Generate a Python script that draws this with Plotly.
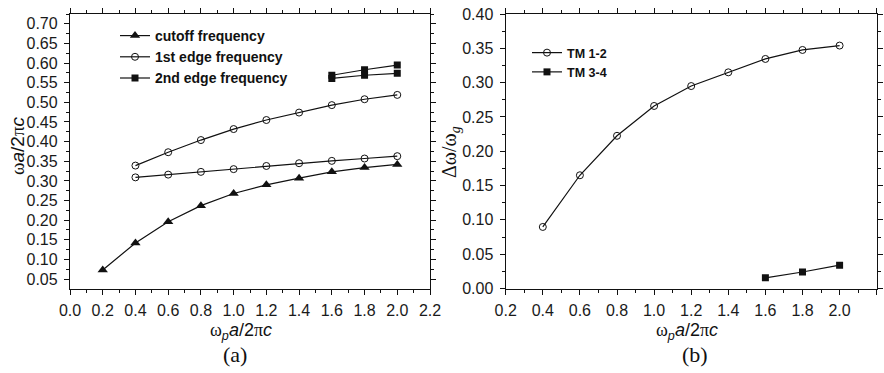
import plotly.graph_objects as go

# ---- panel (a): band-edge frequencies vs plasma frequency ----
wp_a = [0.2, 0.4, 0.6, 0.8, 1.0, 1.2, 1.4, 1.6, 1.8, 2.0]
cutoff = [0.073, 0.142, 0.196, 0.237, 0.268, 0.290, 0.307, 0.323, 0.334, 0.342]

wp_edge1 = [0.4, 0.6, 0.8, 1.0, 1.2, 1.4, 1.6, 1.8, 2.0]
edge1_upper = [0.339, 0.373, 0.404, 0.432, 0.455, 0.474, 0.493, 0.508, 0.519]
edge1_lower = [0.309, 0.316, 0.323, 0.330, 0.338, 0.345, 0.351, 0.357, 0.363]

wp_edge2 = [1.6, 1.8, 2.0]
edge2_upper = [0.569, 0.583, 0.595]
edge2_lower = [0.561, 0.569, 0.574]

# ---- panel (b): relative gap width ----
wp_tm12 = [0.4, 0.6, 0.8, 1.0, 1.2, 1.4, 1.6, 1.8, 2.0]
gap_tm12 = [0.0897, 0.165, 0.2225, 0.266, 0.295, 0.315, 0.3345, 0.3476, 0.354]
wp_tm34 = [1.6, 1.8, 2.0]
gap_tm34 = [0.0155, 0.024, 0.034]

BLACK = "#111111"
LINE = dict(color=BLACK, width=1.2)
SERIF = "Liberation Serif, Times New Roman, serif"
SANS = "Liberation Sans, Arial, Helvetica, sans-serif"

fig = go.Figure()

fig.add_trace(go.Scatter(
    x=wp_a, y=cutoff, mode="lines+markers", name="cutoff frequency",
    line=LINE, marker=dict(symbol="triangle-up", size=9, color=BLACK),
    xaxis="x", yaxis="y", legend="legend"))
fig.add_trace(go.Scatter(
    x=wp_edge1, y=edge1_upper, mode="lines+markers", name="1st edge frequency",
    legendgroup="e1", line=LINE,
    marker=dict(symbol="circle-open", size=7, color=BLACK, line=dict(width=1)),
    xaxis="x", yaxis="y", legend="legend"))
fig.add_trace(go.Scatter(
    x=wp_edge1, y=edge1_lower, mode="lines+markers", name="1st edge frequency",
    legendgroup="e1", showlegend=False, line=LINE,
    marker=dict(symbol="circle-open", size=7, color=BLACK, line=dict(width=1)),
    xaxis="x", yaxis="y", legend="legend"))
fig.add_trace(go.Scatter(
    x=wp_edge2, y=edge2_upper, mode="lines+markers", name="2nd edge frequency",
    legendgroup="e2", line=LINE,
    marker=dict(symbol="square", size=7, color=BLACK),
    xaxis="x", yaxis="y", legend="legend"))
fig.add_trace(go.Scatter(
    x=wp_edge2, y=edge2_lower, mode="lines+markers", name="2nd edge frequency",
    legendgroup="e2", showlegend=False, line=LINE,
    marker=dict(symbol="square", size=7, color=BLACK),
    xaxis="x", yaxis="y", legend="legend"))

fig.add_trace(go.Scatter(
    x=wp_tm12, y=gap_tm12, mode="lines+markers", name="TM 1-2",
    line=LINE,
    marker=dict(symbol="circle-open", size=7, color=BLACK, line=dict(width=1)),
    xaxis="x2", yaxis="y2", legend="legend2"))
fig.add_trace(go.Scatter(
    x=wp_tm34, y=gap_tm34, mode="lines+markers", name="TM 3-4",
    line=LINE, marker=dict(symbol="square", size=7, color=BLACK),
    xaxis="x2", yaxis="y2", legend="legend2"))

W, H = 884, 373


def axis_style(**kw):
    base = dict(
        showline=True, linecolor=BLACK, linewidth=1.3, mirror="ticks",
        ticks="outside", ticklen=5, tickwidth=1.1, tickcolor=BLACK,
        showgrid=False, zeroline=False, automargin=False,
        tickfont=dict(family=SANS, size=16, color="#1a1a1a"),
    )
    base.update(kw)
    return base


MINOR = dict(ticklen=3, ticks="outside", tickcolor=BLACK, tickwidth=1)
y_dom = [1 - 288.5 / H, 1 - 14 / H]

fig.update_layout(
    width=W, height=H,
    margin=dict(l=0, r=0, t=0, b=0),
    paper_bgcolor="white", plot_bgcolor="white",
    xaxis=axis_style(domain=[70 / W, 430 / W], range=[0, 2.2],
                     tick0=0, dtick=0.2, tickformat=".1f", ticklabelstandoff=2,
                     minor=dict(dtick=0.1, **MINOR)),
    yaxis=axis_style(domain=y_dom, range=[0.026, 0.725],
                     tick0=0.05, dtick=0.05, tickformat=".2f", ticklabelstandoff=3,
                     minor=dict(dtick=0.025, **MINOR)),
    xaxis2=axis_style(domain=[505.7 / W, 876.7 / W], range=[0.2, 2.2],
                      tick0=0.2, dtick=0.2, tickformat=".1f", anchor="y2",
                      ticklabelstandoff=2,
                      minor=dict(dtick=0.1, **MINOR)),
    yaxis2=axis_style(domain=y_dom, range=[0, 0.40], anchor="x2",
                      tick0=0, dtick=0.05, tickformat=".2f", ticklabelstandoff=3,
                      minor=dict(dtick=0.025, **MINOR)),
    legend=dict(x=115 / W, y=1 - 20 / H, xanchor="left", yanchor="top",
                bgcolor="rgba(0,0,0,0)", itemwidth=30, tracegroupgap=0,
                font=dict(family=SANS, size=14, color=BLACK, weight="bold")),
    legend2=dict(x=527 / W, y=1 - 38 / H, xanchor="left", yanchor="top",
                 bgcolor="rgba(0,0,0,0)", itemwidth=30, tracegroupgap=0,
                 font=dict(family=SANS, size=12.5, color=BLACK, weight="bold")),
    showlegend=True,
)

xt = ('<span style="font-family:%s">ω</span><sub><i>p</i></sub>'
      '<i>a</i>/2<span style="font-family:%s">π</span><i>c</i>') % (SERIF, SERIF)
yt_a = ('<span style="font-family:%s">ω</span>'
        '<i>a</i>/2<span style="font-family:%s">π</span><i>c</i>') % (SERIF, SERIF)
yt_b = 'Δω/ω<sub><i>g</i></sub>'

ann = [
    dict(text=xt, x=241 / W, y=1 - 331 / H, font=dict(family=SANS, size=18, color=BLACK)),
    dict(text=xt, x=687 / W, y=1 - 331 / H, font=dict(family=SANS, size=18, color=BLACK)),
    dict(text="(a)", x=235 / W, y=1 - 354 / H, font=dict(family=SERIF, size=22, color=BLACK)),
    dict(text="(b)", x=695 / W, y=1 - 354 / H, font=dict(family=SERIF, size=22, color=BLACK)),
    dict(text=yt_a, x=17 / W, y=1 - 146 / H, textangle=-90,
         font=dict(family=SANS, size=19, color=BLACK)),
    dict(text=yt_b, x=450 / W, y=1 - 152 / H, textangle=-90,
         font=dict(family=SERIF, size=20, color=BLACK)),
]
for a in ann:
    a.update(xref="paper", yref="paper", showarrow=False,
             xanchor="center", yanchor="middle")
fig.update_layout(annotations=ann)

fig.write_html("out.html")
